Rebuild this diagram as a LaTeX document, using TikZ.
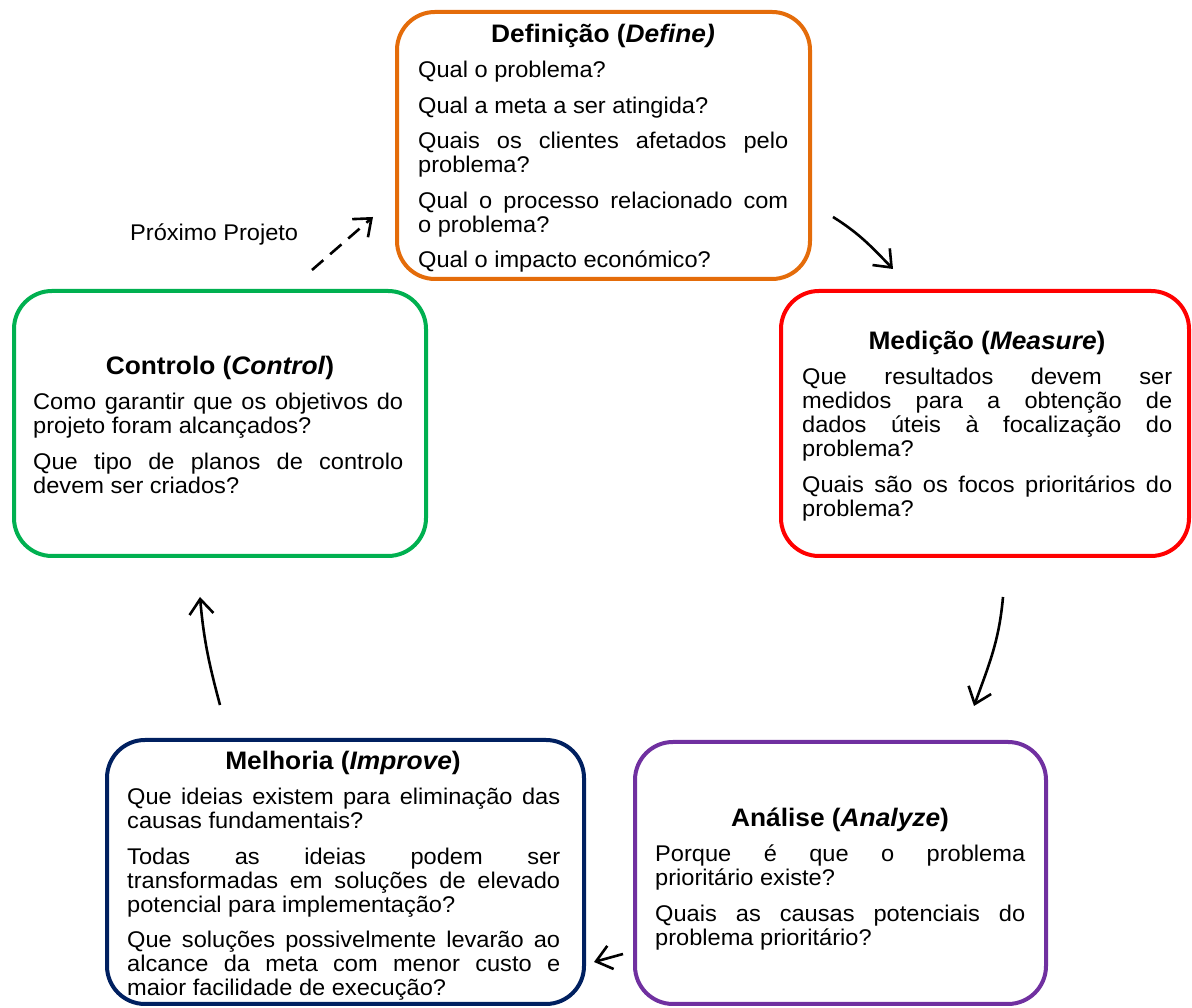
\documentclass[tikz,border=0pt]{standalone}
\usepackage{fontspec}
\setmainfont{Liberation Sans}[FakeStretch=1.04]
\usetikzlibrary{arrows.meta}

\definecolor{defcol}{RGB}{228,108,10}
\definecolor{meacol}{RGB}{255,0,0}
\definecolor{anacol}{RGB}{112,48,160}
\definecolor{impcol}{RGB}{0,32,96}
\definecolor{concol}{RGB}{0,176,80}

\tikzset{
  phase/.style={draw, line width=4pt, rounded corners=38pt, inner sep=0pt},
  phasetitle/.style={anchor=base, inner sep=0pt,
    font=\fontsize{25.3}{28}\selectfont\bfseries},
  phasetext/.style={anchor=base west, inner sep=0pt, text width=#1,
    align=justify, font=\fontsize{22.7}{24}\selectfont},
  flow/.style={line width=2.6pt, -{Straight Barb[length=15pt,width=24pt]}},
}
\newcommand{\qsetup}{\setlength{\parskip}{11.5pt}\hbadness=10000 \tolerance=10000 \hyphenpenalty=10000 }

\begin{document}
\begin{tikzpicture}[x=1pt,y=1pt]
  \useasboundingbox[fill=white] (0,0) rectangle (1192,1008);

  % phase boxes
  \node[phase, draw=defcol, minimum width=413pt, minimum height=267pt] (define)  at (603.5,862.5) {};
  \node[phase, draw=meacol, minimum width=408pt, minimum height=265pt] (measure) at (985,584.5) {};
  \node[phase, draw=concol, minimum width=412pt, minimum height=265pt] (control) at (220,584.5) {};
  \node[phase, draw=impcol, minimum width=477pt, minimum height=264pt] (improve) at (345.5,136) {};
  \node[phase, draw=anacol, minimum width=411pt, minimum height=262pt] (analyze) at (840.5,135) {};

  % Define
  \node[phasetitle] (defineT) at (603,965) {Definição (\textit{Define)}};
  \node[phasetext=370pt] (defineQ) at (418,930) {\qsetup
    Qual o problema?\par
    Qual a meta a ser atingida?\par
    Quais os clientes afetados pelo\linebreak problema?\par
    Qual o processo relacionado com\linebreak o problema?\par
    Qual o impacto económico?};

  % Measure
  \node[phasetitle] (measureT) at (987,658) {Medição (\textit{Measure})};
  \node[phasetext=370pt] (measureQ) at (802,623) {\qsetup
    Que resultados devem ser\linebreak medidos para a obtenção de\linebreak dados úteis à focalização do\linebreak problema?\par
    Quais são os focos prioritários do\linebreak problema?};

  % Analyze
  \node[phasetitle] (analyzeT) at (840,181) {Análise (\textit{Analyze})};
  \node[phasetext=370pt] (analyzeQ) at (655,146) {\qsetup
    Porque é que o problema\linebreak prioritário existe?\par
    Quais as causas potenciais do\linebreak problema prioritário?};

  % Improve
  \node[phasetitle] (improveT) at (343,238) {Melhoria (\textit{Improve})};
  \node[phasetext=433pt] (improveQ) at (127,203) {\qsetup
    Que ideias existem para eliminação das\linebreak causas fundamentais?\par
    Todas as ideias podem ser\linebreak transformadas em soluções de elevado\linebreak potencial para implementação?\par
    Que soluções possivelmente levarão ao\linebreak alcance da meta com menor custo e\linebreak maior facilidade de execução?};

  % Control
  \node[phasetitle] (controlT) at (220,633) {Controlo (\textit{Control})};
  \node[phasetext=370pt] (controlQ) at (33,598) {\qsetup
    Como garantir que os objetivos do\linebreak projeto foram alcançados?\par
    Que tipo de planos de controlo\linebreak devem ser criados?};

  % next project label
  \node[anchor=base west, inner sep=0pt, font=\fontsize{22.7}{24}\selectfont] (nextP) at (130,767) {Próximo Projeto};

  % connector ends
  \coordinate (dmS) at (833,791);  \coordinate (dmE) at (893,739);
  \coordinate (maS) at (1003,411); \coordinate (maE) at (974,302);
  \coordinate (aiS) at (623,54);   \coordinate (aiE) at (594,46);
  \coordinate (icS) at (220,303);  \coordinate (icE) at (200,411);
  \coordinate (cdS) at (312,738);  \coordinate (cdE) at (373,791);

  % cycle connectors
  \draw[flow] (dmS) to[out=-32,in=134] (dmE);
  \draw[flow] (maS) to[out=-95,in=70] (maE);
  \draw[flow] (aiS) -- (aiE);
  \draw[flow] (icS) to[out=105,in=-85] (icE);
  \draw[flow, dash pattern=on 15pt off 9pt] (cdS) -- (cdE);
\end{tikzpicture}
\end{document}
